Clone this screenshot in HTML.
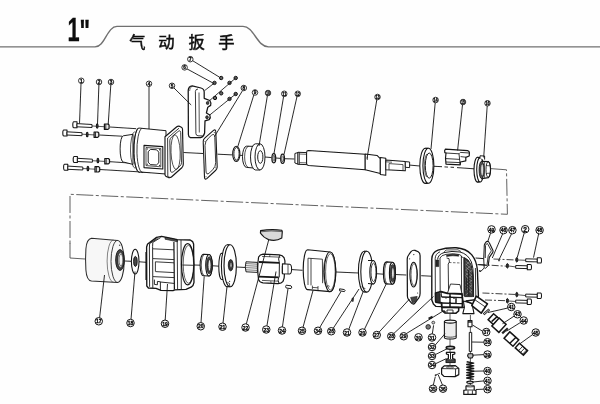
<!DOCTYPE html>
<html><head><meta charset="utf-8"><title>1" air wrench</title>
<style>html,body{margin:0;padding:0;background:#fff;}body{width:600px;height:404px;overflow:hidden;font-family:"Liberation Sans",sans-serif;}svg{display:block;}</style>
</head><body>
<svg width="600" height="404" viewBox="0 0 600 404">
<defs><filter id="soft" x="0" y="0" width="100%" height="100%" filterUnits="userSpaceOnUse"><feGaussianBlur stdDeviation="0.32"/></filter><filter id="soft2" x="0" y="0" width="100%" height="100%" filterUnits="userSpaceOnUse"><feGaussianBlur stdDeviation="0.18"/></filter></defs>
<rect width="600" height="404" fill="#fefefe"/>
<g filter="url(#soft)">
<path d="M0,46.9 H95 C105,46.9 107,26.4 117,26.4 H243 C254,26.4 257,46.9 268.5,46.9 H600" fill="none" stroke="#707070" stroke-width="1.4"/>
<text x="0" y="0" transform="translate(67.6,41.3) scale(0.67,1)" font-family="Liberation Sans, sans-serif" font-weight="bold" font-size="32.5" fill="#0a0a0a" stroke="#0a0a0a" stroke-width="0.3">1</text>
<text x="0" y="0" transform="translate(79.4,41.6) scale(0.68,0.95)" font-family="Liberation Sans, sans-serif" font-weight="bold" font-size="32.5" fill="#0a0a0a" stroke="#0a0a0a" stroke-width="0.4">&quot;</text>
<text x="129.15 158.15 188.55 218.35" y="47.8" font-family="'Liberation Sans', 'Noto Sans CJK SC', sans-serif" font-size="16.3" fill="#111" stroke="#111" stroke-width="0.5">气动扳手</text>
<path d="M490.6,168.6 L506.5,169.8 L507.4,214.3 L70,194.3 L70,244" fill="none" stroke="#3a3a3a" stroke-width="0.8" stroke-dasharray="17 2.5 3 2.5"/>
<path d="M70,243 L70,258 L85,259" fill="none" stroke="#3a3a3a" stroke-width="0.8"/>
<line x1="110" y1="127" x2="136.2" y2="128.7" stroke="#141414" stroke-width="0.9"/>
<line x1="99.2" y1="135" x2="122" y2="136.2" stroke="#141414" stroke-width="0.9"/>
<line x1="110" y1="161.7" x2="129.5" y2="163" stroke="#141414" stroke-width="0.9"/>
<line x1="100" y1="169.5" x2="150" y2="172.5" stroke="#141414" stroke-width="0.9"/>
<line x1="183.5" y1="152.5" x2="203" y2="153.5" stroke="#141414" stroke-width="0.9"/>
<line x1="217.5" y1="154.2" x2="232.5" y2="154.9" stroke="#141414" stroke-width="0.9"/>
<line x1="240" y1="155.3" x2="243" y2="155.5" stroke="#141414" stroke-width="0.9"/>
<line x1="265" y1="157" x2="271.5" y2="157.6" stroke="#141414" stroke-width="0.9"/>
<line x1="276" y1="158" x2="280.5" y2="158.4" stroke="#141414" stroke-width="0.9"/>
<line x1="284.6" y1="158.7" x2="294.5" y2="159" stroke="#141414" stroke-width="0.9"/>
<line x1="408.5" y1="165" x2="420" y2="166" stroke="#141414" stroke-width="0.9"/>
<line x1="434" y1="166.3" x2="442" y2="166.7" stroke="#141414" stroke-width="0.9"/>
<line x1="444.5" y1="166.9" x2="448" y2="167.1" stroke="#141414" stroke-width="0.9"/>
<line x1="450.5" y1="167.2" x2="454" y2="167.4" stroke="#141414" stroke-width="0.9"/>
<line x1="457" y1="167.6" x2="474" y2="168.8" stroke="#141414" stroke-width="0.9"/>
<line x1="125" y1="261" x2="131" y2="261.3" stroke="#141414" stroke-width="0.9"/>
<line x1="138" y1="261.7" x2="146" y2="262.3" stroke="#141414" stroke-width="0.9"/>
<line x1="194" y1="265" x2="200.5" y2="265.2" stroke="#141414" stroke-width="0.9"/>
<line x1="211.4" y1="265.7" x2="219" y2="266.2" stroke="#141414" stroke-width="0.9"/>
<line x1="236.6" y1="267" x2="245.5" y2="267.5" stroke="#141414" stroke-width="0.9"/>
<line x1="291" y1="269.5" x2="302.5" y2="270.3" stroke="#141414" stroke-width="0.9"/>
<line x1="336.2" y1="272" x2="358.7" y2="273" stroke="#141414" stroke-width="0.9"/>
<line x1="376.2" y1="273.7" x2="383.7" y2="274.2" stroke="#141414" stroke-width="0.9"/>
<line x1="395" y1="274.5" x2="406.2" y2="275" stroke="#141414" stroke-width="0.9"/>
<line x1="421.2" y1="275.7" x2="431.2" y2="276.2" stroke="#141414" stroke-width="0.9"/>
<line x1="493.5" y1="259" x2="516" y2="260" stroke="#141414" stroke-width="0.8" stroke-dasharray="7 2 2 2"/>
<line x1="478.7" y1="264.5" x2="506.4" y2="266.2" stroke="#141414" stroke-width="0.8" stroke-dasharray="7 2 2 2"/>
<line x1="482.5" y1="293" x2="516" y2="294.5" stroke="#141414" stroke-width="0.8" stroke-dasharray="7 2 2 2"/>
<line x1="485" y1="300" x2="506.4" y2="300.7" stroke="#141414" stroke-width="0.8" stroke-dasharray="7 2 2 2"/>
<line x1="450" y1="313.7" x2="450" y2="365" stroke="#141414" stroke-width="0.7"/>
<line x1="470.4" y1="315" x2="470.4" y2="385" stroke="#141414" stroke-width="0.7"/>
<path d="M73.8,121.8 h3.2 v6 h-3.2 a1,3 0 0 1 0,-6 z" fill="#fff" stroke="#141414" stroke-width="1.08" stroke-linejoin="round" />
<path d="M77,123.6 l15,0.9 v3 l-15,-0.7 z" fill="#fff" stroke="#141414" stroke-width="0.96" stroke-linejoin="round" />
<path d="M92,126.0 L106,126.8" fill="none" stroke="#141414" stroke-width="0.72" stroke-linejoin="round" />
<ellipse cx="97.2" cy="126.1" rx="0.9" ry="2.2" fill="#444" stroke="#141414" stroke-width="1.08"/>
<path d="M104.39999999999999,124.0 h3.6 l1.1,1 v3.4 l-1.1,1 h-3.6 z" fill="#e8e8e8" stroke="#141414" stroke-width="1.2" stroke-linejoin="round" />
<path d="M105.8,124.0 v5.4" fill="none" stroke="#141414" stroke-width="0.84" stroke-linejoin="round" />
<path d="M63.8,130 h3.2 v6 h-3.2 a1,3 0 0 1 0,-6 z" fill="#fff" stroke="#141414" stroke-width="1.08" stroke-linejoin="round" />
<path d="M67,131.8 l15,0.9 v3 l-15,-0.7 z" fill="#fff" stroke="#141414" stroke-width="0.96" stroke-linejoin="round" />
<path d="M82,134.2 L96,135" fill="none" stroke="#141414" stroke-width="0.72" stroke-linejoin="round" />
<ellipse cx="87.2" cy="134.4" rx="0.9" ry="2.2" fill="#444" stroke="#141414" stroke-width="1.08"/>
<path d="M94.1,132.0 h3.6 l1.1,1 v3.4 l-1.1,1 h-3.6 z" fill="#e8e8e8" stroke="#141414" stroke-width="1.2" stroke-linejoin="round" />
<path d="M95.5,132.0 v5.4" fill="none" stroke="#141414" stroke-width="0.84" stroke-linejoin="round" />
<path d="M74.2,156.5 h3.2 v6 h-3.2 a1,3 0 0 1 0,-6 z" fill="#fff" stroke="#141414" stroke-width="1.08" stroke-linejoin="round" />
<path d="M77.4,158.3 l15,0.9 v3 l-15,-0.7 z" fill="#fff" stroke="#141414" stroke-width="0.96" stroke-linejoin="round" />
<path d="M92.4,160.7 L106.4,161.5" fill="none" stroke="#141414" stroke-width="0.72" stroke-linejoin="round" />
<ellipse cx="97.9" cy="160.5" rx="0.9" ry="2.2" fill="#444" stroke="#141414" stroke-width="1.08"/>
<path d="M104.8,158.5 h3.6 l1.1,1 v3.4 l-1.1,1 h-3.6 z" fill="#e8e8e8" stroke="#141414" stroke-width="1.2" stroke-linejoin="round" />
<path d="M106.2,158.5 v5.4" fill="none" stroke="#141414" stroke-width="0.84" stroke-linejoin="round" />
<path d="M64.6,164.3 h3.2 v6 h-3.2 a1,3 0 0 1 0,-6 z" fill="#fff" stroke="#141414" stroke-width="1.08" stroke-linejoin="round" />
<path d="M67.8,166.10000000000002 l15,0.9 v3 l-15,-0.7 z" fill="#fff" stroke="#141414" stroke-width="0.96" stroke-linejoin="round" />
<path d="M82.8,168.5 L96.8,169.3" fill="none" stroke="#141414" stroke-width="0.72" stroke-linejoin="round" />
<ellipse cx="87.9" cy="168.6" rx="0.9" ry="2.2" fill="#444" stroke="#141414" stroke-width="1.08"/>
<path d="M95.0,166.60000000000002 h3.6 l1.1,1 v3.4 l-1.1,1 h-3.6 z" fill="#e8e8e8" stroke="#141414" stroke-width="1.2" stroke-linejoin="round" />
<path d="M96.4,166.60000000000002 v5.4" fill="none" stroke="#141414" stroke-width="0.84" stroke-linejoin="round" />
<path d="M133,134.3 L123.3,135.8 A3.2,13.1 0 0 0 123.3,162 L133,164.4 z" fill="#fff" stroke="#141414" stroke-width="0.96" stroke-linejoin="round" />
<path d="M138.5,128 L166,130.7 L166,174 L140.3,172 A5.5,22 0 0 1 138.5,128 z" fill="#fff" stroke="#141414" stroke-width="0.96" stroke-linejoin="round" />
<path d="M138.5,128 A5.5,22 0 0 0 140.3,172" fill="none" stroke="#141414" stroke-width="0.84" stroke-linejoin="round" />
<path d="M141.8,128.4 A5.5,21.8 0 0 0 143.2,172.3" fill="none" stroke="#141414" stroke-width="0.84" stroke-linejoin="round" />
<path d="M134.6,131.5 A4.8,18.5 0 0 0 135.2,168.3" fill="none" stroke="#141414" stroke-width="0.72" stroke-linejoin="round" />
<path d="M144,145.4 L162.8,146.6 L162.8,169 L144,167.6 z" fill="#fff" stroke="#141414" stroke-width="1.08" stroke-linejoin="round" />
<path d="M146,147.5 L160.8,148.5 L160.8,166.8 L146,165.6 z" fill="#fff" stroke="#141414" stroke-width="0.72" stroke-linejoin="round" />
<path d="M148.2,151.6 L150.6,149.4 L156.6,149.8 L158.8,152.2 L158.8,162.8 L156.4,165 L150.4,164.6 L148.2,162.2 z" fill="#fff" stroke="#141414" stroke-width="0.96" stroke-linejoin="round" />
<circle cx="147.2" cy="149" r="0.7" fill="#333"/>
<circle cx="159.6" cy="149.8" r="0.7" fill="#333"/>
<circle cx="147.2" cy="164.3" r="0.7" fill="#333"/>
<circle cx="159.6" cy="165.4" r="0.7" fill="#333"/>
<path d="M165,136.8 L176.8,126.8 Q178.2,125.8 179.8,126.4 L181.4,127.2 Q182.4,127.8 182.5,129 L183.3,164 Q183.3,166.4 181.8,167.8 L171.4,177 Q170,178 168.6,177.6 L166.2,176.4 Q165,175.8 165,174.4 z" fill="#fff" stroke="#141414" stroke-width="1.14" stroke-linejoin="round" />
<path d="M167.6,138 L179,128.2 M167.6,138 L167.8,176.6 M167.8,176.6 Q169,177.6 170.4,177.2" fill="none" stroke="#141414" stroke-width="0.84" stroke-linejoin="round" />
<path d="M169.8,140.6 Q169.8,138.6 171.4,137.2 L178.2,131.4 Q180.6,129.8 180.7,132.6 L181.5,162.6 Q181.5,164.6 180,166 L173.6,171.6 Q170.6,173.6 170.4,170 z" fill="#fff" stroke="#141414" stroke-width="0.84" stroke-linejoin="round" />
<ellipse cx="175.6" cy="152.2" rx="4.6" ry="17.4" fill="none" stroke="#141414" stroke-width="0.72" transform="rotate(-2 175.6 152.2)"/>
<path d="M188.2,90.6 Q188.4,86 192.2,85.8 L201,88 Q204.2,88.8 204.2,92.2 L204.2,98.3 L209.8,100.5 Q211.6,103 210.6,105.4 L207.8,107.2 L206.4,113 L209.8,115 Q211,117.5 209.2,119.6 L205,120.8 L204.6,133 Q203.5,137 200.5,137.6 L190.5,137.6 Q188.4,137 188.4,134.5 z" fill="#fff" stroke="#141414" stroke-width="1.26" stroke-linejoin="round" />
<path d="M195.4,91.4 Q195.6,89 198,89 M195.4,91.4 L195.9,133.5 Q196,135.6 198,135.8 L202.5,135.9" fill="none" stroke="#141414" stroke-width="0.84" stroke-linejoin="round" />
<path d="M199,92.5 L199.3,132.5" fill="none" stroke="#141414" stroke-width="0.72" stroke-linejoin="round" />
<path d="M192,86.4 Q189.5,87.5 189.6,91" fill="none" stroke="#141414" stroke-width="0.6" stroke-linejoin="round" />
<ellipse cx="207.6" cy="103" rx="1.3" ry="1.6" fill="#444" stroke="#141414" stroke-width="0.72"/>
<ellipse cx="207" cy="117.3" rx="1.3" ry="1.6" fill="#444" stroke="#141414" stroke-width="0.72"/>
<circle cx="221.2" cy="78" r="1.7" fill="#666" stroke="#111" stroke-width="1.0"/>
<circle cx="214.5" cy="82.9" r="1.7" fill="#666" stroke="#111" stroke-width="1.0"/>
<circle cx="235.7" cy="78" r="1.7" fill="#666" stroke="#111" stroke-width="1.0"/>
<circle cx="229.5" cy="82.9" r="1.7" fill="#666" stroke="#111" stroke-width="1.0"/>
<circle cx="235.7" cy="94" r="1.7" fill="#666" stroke="#111" stroke-width="1.0"/>
<circle cx="229.5" cy="98.9" r="1.7" fill="#666" stroke="#111" stroke-width="1.0"/>
<circle cx="221.2" cy="93.3" r="1.7" fill="#666" stroke="#111" stroke-width="1.0"/>
<circle cx="215" cy="98" r="1.7" fill="#666" stroke="#111" stroke-width="1.0"/>
<path d="M235.7,78 L208.5,101.5 M235.7,94 L209.5,115.2 M214.5,82.9 L204.6,90.6" fill="none" stroke="#141414" stroke-width="0.84" stroke-linejoin="round" />
<path d="M203.2,141.5 Q203,139.5 205,137.8 L213.5,130.4 Q215.5,129 215.8,131.5 L217.2,167 Q217.2,169 215.5,170.5 L206.8,178.6 Q204.7,180 204.5,177.5 z" fill="#fff" stroke="#141414" stroke-width="1.08" stroke-linejoin="round" />
<path d="M205,145.4 Q205,141.4 208.4,138.2 L211.4,135.4 Q214.6,132.8 214.8,137.4 L215.7,162.6 Q215.8,166.6 212.6,169.8 L209.6,172.8 Q206.2,175.8 206,171 z" fill="#fff" stroke="#141414" stroke-width="0.84" stroke-linejoin="round" />
<circle cx="205" cy="141.2" r="0.55" fill="#333"/>
<circle cx="214.3" cy="132.6" r="0.55" fill="#333"/>
<circle cx="215.8" cy="167.8" r="0.55" fill="#333"/>
<circle cx="206" cy="176.8" r="0.55" fill="#333"/>
<ellipse cx="236.3" cy="153.8" rx="3.6" ry="7.6" fill="#fff" stroke="#141414" stroke-width="1.08"/>
<ellipse cx="236.5" cy="153.8" rx="2.6" ry="6.3" fill="#fff" stroke="#141414" stroke-width="0.84"/>
<path d="M254,146.4 L246.5,146.2 A4,10.6 0 0 0 246.5,167.4 L254,168 z" fill="#fff" stroke="#141414" stroke-width="0.96" stroke-linejoin="round" />
<path d="M248.6,146.3 A4,10.6 0 0 0 248.6,167.5" fill="none" stroke="#141414" stroke-width="0.72" stroke-linejoin="round" />
<path d="M260,143.8 L255.5,143.8 A5,13.1 0 0 0 255.5,170 L260,170 z" fill="#fff" stroke="#141414" stroke-width="0.96" stroke-linejoin="round" />
<ellipse cx="260" cy="156.9" rx="5" ry="13.1" fill="#fff" stroke="#141414" stroke-width="0.96"/>
<ellipse cx="260.3" cy="157" rx="2.6" ry="6.3" fill="#fff" stroke="#141414" stroke-width="0.96"/>
<ellipse cx="273.8" cy="158.2" rx="1.9" ry="4.6" fill="#fff" stroke="#141414" stroke-width="1.2"/>
<ellipse cx="273.9" cy="158.2" rx="0.9" ry="3" fill="#fff" stroke="#141414" stroke-width="0.72"/>
<ellipse cx="282.6" cy="158.8" rx="1.9" ry="4.6" fill="#fff" stroke="#141414" stroke-width="1.2"/>
<ellipse cx="282.7" cy="158.8" rx="0.9" ry="3" fill="#fff" stroke="#141414" stroke-width="0.72"/>
<path d="M298,152.5 L294.9,153.5 L294.9,163 L298,164.2 z" fill="#fff" stroke="#141414" stroke-width="0.96" stroke-linejoin="round" />
<path d="M298,152.3 L306.7,152.6 L306.7,164.6 L298,164.3 z" fill="#fff" stroke="#141414" stroke-width="0.96" stroke-linejoin="round" />
<path d="M299.5,154 L306.7,154.3 M299.5,162.6 L306.7,162.9 M299.5,152.4 L299.5,164.3" fill="none" stroke="#141414" stroke-width="0.66" stroke-linejoin="round" />
<path d="M308.5,150.6 L365.2,154.3 L365.2,169.8 L308.5,165.4 Q306.6,165.2 306.6,163.5 L306.6,152.4 Q306.6,150.6 308.5,150.6 z" fill="#fff" stroke="#141414" stroke-width="1.02" stroke-linejoin="round" />
<path d="M365.2,154 L377,155.4 L380.3,158.6 L380.3,173.6 L365.2,169.8 z" fill="#fff" stroke="#141414" stroke-width="1.02" stroke-linejoin="round" />
<path d="M367.3,156.5 L367.3,160" fill="none" stroke="#141414" stroke-width="0.72" stroke-linejoin="round" />
<path d="M380.3,157.6 L385.8,158.2 L385.8,175.2 L380.3,174.5 z" fill="#fff" stroke="#141414" stroke-width="1.02" stroke-linejoin="round" />
<path d="M385.8,160 L405.3,161.4 L405.3,170.8 L385.8,169.7 z" fill="#fff" stroke="#141414" stroke-width="1.02" stroke-linejoin="round" />
<path d="M389,163.6 L403,164.6 L403,170.6 M389,163.6 L389,169.9 M385.8,161.8 L392,162.2" fill="none" stroke="#141414" stroke-width="0.72" stroke-linejoin="round" />
<path d="M405.3,161.6 L409.6,162 L409.6,167.6 L405.3,167.3 z" fill="#fff" stroke="#141414" stroke-width="0.96" stroke-linejoin="round" />
<ellipse cx="425.4" cy="165.8" rx="5.6" ry="17.6" fill="#fff" stroke="#141414" stroke-width="1.08"/>
<path d="M425.4,148.2 L428.4,148.2 M425.4,183.4 L428.4,183.4" fill="none" stroke="#141414" stroke-width="0.96" stroke-linejoin="round" />
<ellipse cx="428.4" cy="165.8" rx="5.5" ry="17.5" fill="#fff" stroke="#141414" stroke-width="1.08"/>
<ellipse cx="429.2" cy="165.6" rx="3.9" ry="12.6" fill="#fff" stroke="#141414" stroke-width="0.96"/>
<path d="M426.6,177 A3.9,12.6 0 0 1 426.8,154" fill="none" stroke="#141414" stroke-width="0.6" stroke-linejoin="round" />
<path d="M445.4,149.2 L467.6,150.6 Q469.4,151 469.4,152.8 L469.2,156 L465.8,157.4 L465.8,160.8 L460.4,162 L460.2,164.8 L446,164.2 Q445,158 446,153 L444.8,152.6 Q444.2,150.6 445.4,149.2 z" fill="#fff" stroke="#141414" stroke-width="1.2" stroke-linejoin="round" />
<path d="M446,153 L459,153.8 L460.4,152.4 L469.2,153 M459,153.8 L460.2,164.6 M446,158.6 L459.8,159.4 M446,162 L460.2,162.6 M460.6,156.6 L465.8,157.2" fill="none" stroke="#141414" stroke-width="0.84" stroke-linejoin="round" />
<ellipse cx="477.6" cy="169.7" rx="3.6" ry="12.4" fill="#fff" stroke="#141414" stroke-width="1.14"/>
<path d="M477.6,157.3 L480.2,157.5 M477.6,182.1 L480.2,182" fill="none" stroke="#141414" stroke-width="0.96" stroke-linejoin="round" />
<ellipse cx="480.2" cy="169.8" rx="3.5" ry="12.2" fill="#fff" stroke="#141414" stroke-width="1.08"/>
<path d="M481.6,161.2 L488.4,161.6 Q490.6,163 490.6,169.2 Q490.6,175.6 488.4,177.6 L481.8,178.6 z" fill="#fff" stroke="#141414" stroke-width="1.08" stroke-linejoin="round" />
<ellipse cx="481.6" cy="169.9" rx="2.5" ry="8.7" fill="#555" stroke="#141414" stroke-width="0.84"/>
<ellipse cx="482.2" cy="169.9" rx="1.5" ry="6.2" fill="#ddd" stroke="#141414" stroke-width="0.6"/>
<ellipse cx="488.2" cy="169.5" rx="2.2" ry="8" fill="none" stroke="#141414" stroke-width="0.84"/>
<path d="M484.6,162 L484.6,177.8 M486,165.6 L490,165.8 M486,173.4 L490,173.2" fill="none" stroke="#141414" stroke-width="0.72" stroke-linejoin="round" />
<path d="M480,158.6 L480,155.8 L484.6,156 L484.6,159.6" fill="#fff" stroke="#141414" stroke-width="0.96" stroke-linejoin="round" />
<path d="M91.5,238.3 L117.6,240.4 A6.6,21 0 0 1 117.6,282.4 L91.5,281 Q86.6,280.4 85.9,270 Q85.2,259 85.9,249 Q86.6,239 91.5,238.3 z" fill="#f7f7f7" stroke="#2a2a2a" stroke-width="1.02" stroke-linejoin="round" />
<path d="M117.6,240.4 A6.6,21 0 0 0 117.6,282.4" fill="none" stroke="#2a2a2a" stroke-width="0.9" stroke-linejoin="round" />
<path d="M113.4,240.1 A6.3,21 0 0 0 113.4,282.1" fill="none" stroke="#444" stroke-width="0.66" stroke-linejoin="round" />
<ellipse cx="120" cy="260" rx="4.3" ry="10.4" fill="#4a4a4a" stroke="#141414" stroke-width="0.96"/>
<ellipse cx="120.5" cy="260" rx="2.9" ry="7.8" fill="#e4e4e4" stroke="#141414" stroke-width="0.84"/>
<ellipse cx="120.9" cy="260" rx="1.9" ry="6" fill="#f4f4f4" stroke="#141414" stroke-width="0.6"/>
<circle cx="119.6" cy="245.2" r="0.7" fill="#555"/>
<ellipse cx="135.2" cy="261.6" rx="3.8" ry="12.4" fill="#fff" stroke="#141414" stroke-width="1.08"/>
<ellipse cx="135.4" cy="261.4" rx="1.8" ry="5" fill="#4a4a4a" stroke="#141414" stroke-width="0.96"/>
<path d="M146.6,247 L147.6,244 L149.6,242.6 L156.6,237.4 L161.6,236.4 L174,239 L177.2,239.7 L190.2,240 L192.6,241.6 L193.6,244 L194,282.4 L193,285.4 L191,287.2 L186,289.4 L180,289.6 L174.8,289.8 L173,290.6 L161,290.4 L156,288.4 L148.4,288 L146.8,286 z" fill="#fff" stroke="#141414" stroke-width="1.32" stroke-linejoin="round" />
<path d="M149.4,248 L149.6,243.6 L157.6,238.4 M149.4,248 L149.6,286.8 M152.6,246.4 L152.8,287.8 M152.6,246.4 L152.8,242.4 L160.6,237.6" fill="none" stroke="#141414" stroke-width="0.9" stroke-linejoin="round" />
<path d="M153,248.8 L174,249.8 M153,258.6 L174,259.6 M155.4,261.8 L174,262.8 M155.4,261.8 L155.4,271.4 M155.4,271.6 L174,272.6 M153,276.6 L174,277.6" fill="none" stroke="#141414" stroke-width="0.84" stroke-linejoin="round" />
<path d="M165,237.4 L177.4,240 L177.4,241.8 L165,239.2 z" fill="#555" stroke="#141414" stroke-width="0.6" stroke-linejoin="round" />
<path d="M173.9,242 L174.4,289.6" fill="none" stroke="#141414" stroke-width="1.2" stroke-linejoin="round" />
<path d="M177.2,239.8 L177.6,289.6 M181,240 L181.3,289.6" fill="none" stroke="#141414" stroke-width="0.84" stroke-linejoin="round" />
<ellipse cx="187.7" cy="264.3" rx="6.2" ry="20.6" fill="#fff" stroke="#141414" stroke-width="1.2"/>
<ellipse cx="188.4" cy="264.3" rx="5.2" ry="19" fill="none" stroke="#141414" stroke-width="0.66"/>
<path d="M154.4,279.6 L154.4,284.4 L157.4,284.8 L157.4,281.4 L160.4,281.8 L160.4,290.2 M160.4,282 L174,283.4" fill="none" stroke="#141414" stroke-width="0.9" stroke-linejoin="round" />
<path d="M146.2,252 L146.2,280" fill="none" stroke="#141414" stroke-width="1.56" stroke-linejoin="round" />
<path d="M182.4,265 L193.6,265.3" fill="none" stroke="#141414" stroke-width="0.84" stroke-linejoin="round" />
<path d="M203.4,254.3 L209.0,254.58 A3.3,10.7 0 0 1 209.0,275.97999999999996 L203.4,275.7 A3.3,10.7 0 0 1 203.4,254.3 z" fill="#fff" stroke="#141414" stroke-width="1.08" stroke-linejoin="round" />
<path d="M204.6,254.4 A3.3,10.7 0 0 0 204.6,275.8" fill="none" stroke="#141414" stroke-width="0.72" stroke-linejoin="round" />
<ellipse cx="209.0" cy="265.28" rx="3.3" ry="10.7" fill="#fff" stroke="#141414" stroke-width="1.08"/>
<ellipse cx="209.2" cy="265.28" rx="2.574" ry="8.56" fill="#4a4a4a" stroke="#141414" stroke-width="0.72"/>
<ellipse cx="209.5" cy="265.28" rx="1.4849999999999999" ry="5.885" fill="#eee" stroke="#141414" stroke-width="0.72"/>
<path d="M225,253.4 L221.6,253.2 A2.8,13 0 0 0 221.6,279.4 L225,279.6 z" fill="#fff" stroke="#141414" stroke-width="1.02" stroke-linejoin="round" />
<ellipse cx="227.4" cy="265.7" rx="6" ry="21" fill="#fff" stroke="#141414" stroke-width="1.08"/>
<path d="M227.4,244.7 L230.2,244.8 M227.4,286.7 L230.2,286.8" fill="none" stroke="#141414" stroke-width="0.96" stroke-linejoin="round" />
<ellipse cx="230.2" cy="265.8" rx="6.2" ry="21" fill="#fff" stroke="#141414" stroke-width="1.14"/>
<ellipse cx="230.7" cy="265.2" rx="2.4" ry="5.6" fill="#3a3a3a" stroke="#141414" stroke-width="0.84"/>
<ellipse cx="231" cy="265.2" rx="0.9" ry="2.8" fill="#ddd" stroke="#141414" stroke-width="0.48"/>
<path d="M227.4,282.4 l2,1 l0.4,2.8" fill="none" stroke="#141414" stroke-width="0.78" stroke-linejoin="round" />
<circle cx="229.6" cy="281.4" r="0.65" fill="#444"/>
<path d="M260.6,230.6 Q271,228.8 281.8,230.2 L282.3,231.6 L281.8,238 Q276,241.6 268.6,239.6 Q263.4,237.6 260.4,233 z" fill="#dadada" stroke="#141414" stroke-width="1.14" stroke-linejoin="round" />
<path d="M260.6,231.8 Q271,230.2 282,231.6" fill="none" stroke="#141414" stroke-width="0.6" stroke-linejoin="round" />
<path d="M246,261.8 L257.4,262.4 L257.4,272.4 L246,271.8 Q244.6,267 246,261.8 z" fill="#fff" stroke="#141414" stroke-width="0.96" stroke-linejoin="round" />
<path d="M246,263.6 L257.4,264.2 M245.4,265.6 L257.4,266.2 M245.2,267.6 L257.4,268.2 M245.6,269.8 L257.4,270.4" fill="none" stroke="#333" stroke-width="0.66" stroke-linejoin="round" />
<path d="M258.6,257 Q260,254.4 263,254.2 L279.4,254.8 Q282.6,255 284,257.6 Q285.6,261 284.8,265.6 L282.4,266.4 L282.4,273 L284.4,274 Q284.6,278.6 283,281.4 Q281.4,283.8 277.6,283.6 L263,282.8 Q259.6,282.4 258.6,279.6 Q256.8,268 258.6,257 z" fill="#fff" stroke="#141414" stroke-width="1.2" stroke-linejoin="round" />
<path d="M259,262 L279.4,262.8" fill="none" stroke="#141414" stroke-width="1.8" stroke-linejoin="round" />
<path d="M259,276.6 L278.6,277.4" fill="none" stroke="#141414" stroke-width="1.8" stroke-linejoin="round" />
<path d="M262,256.4 L280.4,257.2 M262,280.4 L279,281.2" fill="none" stroke="#141414" stroke-width="0.72" stroke-linejoin="round" />
<path d="M279.8,255 Q277.6,259 279.4,262.8 M278.6,277.4 Q277.4,280.4 279,283.4 M279.4,262.8 L279.2,277.4" fill="none" stroke="#141414" stroke-width="0.96" stroke-linejoin="round" />
<path d="M270,254.4 L269.6,257 M271,283.2 L270.8,281" fill="none" stroke="#141414" stroke-width="0.6" stroke-linejoin="round" />
<path d="M282.4,263.8 L289.6,264.2 Q291.6,264.4 291.6,269 Q291.6,273.8 289.6,274 L282.4,273.8 z" fill="#fff" stroke="#141414" stroke-width="1.02" stroke-linejoin="round" />
<path d="M288,264.2 L288,273.9" fill="none" stroke="#141414" stroke-width="0.72" stroke-linejoin="round" />
<path d="M286.2,285.2 L291,285.8 Q292.6,287 291,288.6 L286.2,288 Q285,286.6 286.2,285.2 z" fill="#fff" stroke="#141414" stroke-width="0.96" stroke-linejoin="round" />
<path d="M307.6,249.8 L330,252 A5.8,19.8 0 0 1 330,291.6 L307.6,289.6 A4.4,19.9 0 0 1 307.6,249.8 z" fill="#fff" stroke="#141414" stroke-width="1.14" stroke-linejoin="round" />
<ellipse cx="330" cy="271.8" rx="5.8" ry="19.8" fill="#fff" stroke="#141414" stroke-width="1.08"/>
<ellipse cx="330.4" cy="271.8" rx="4.8" ry="18.2" fill="none" stroke="#141414" stroke-width="0.66"/>
<path d="M326.4,257 A4.6,16 0 0 0 326.6,287" fill="none" stroke="#141414" stroke-width="0.6" stroke-linejoin="round" />
<path d="M308,258.2 L322.4,259.2 L322.6,283.2 M308,258.2 L308,285 M311,258.4 L311,285.4" fill="none" stroke="#141414" stroke-width="0.78" stroke-linejoin="round" />
<path d="M312.4,285.6 L312.4,289 M318,286 L318,290 M312.4,287.4 L318,287.8" fill="none" stroke="#141414" stroke-width="0.72" stroke-linejoin="round" />
<circle cx="328.4" cy="286.4" r="0.9" fill="none" stroke="#222" stroke-width="0.5"/>
<path d="M339.6,288.8 L344.4,289.6 Q345.8,290.6 344.4,291.6 L339.6,290.8 z" fill="#fff" stroke="#141414" stroke-width="0.96" stroke-linejoin="round" />
<path d="M352.2,298 L353.6,298.2 L353.2,301.4 L351.8,301.2 z" fill="#555" stroke="#141414" stroke-width="0.6" stroke-linejoin="round" />
<ellipse cx="364.4" cy="271.6" rx="6" ry="20.4" fill="#fff" stroke="#141414" stroke-width="1.08"/>
<path d="M364.4,251.2 L366.8,251.2 M364.4,292 L366.8,292" fill="none" stroke="#141414" stroke-width="0.96" stroke-linejoin="round" />
<ellipse cx="366.8" cy="271.7" rx="6" ry="20.4" fill="#fff" stroke="#141414" stroke-width="1.08"/>
<path d="M368,260.4 L373.2,260.6 A3.4,11.8 0 0 1 373.2,284 L368,283.6" fill="#fff" stroke="#141414" stroke-width="1.02" stroke-linejoin="round" />
<ellipse cx="373.2" cy="272.3" rx="3.4" ry="11.8" fill="#fff" stroke="#141414" stroke-width="1.02"/>
<ellipse cx="373.5" cy="272.3" rx="2.5" ry="9.2" fill="#fff" stroke="#141414" stroke-width="0.84"/>
<path d="M361.8,286 l1.6,2 l2,0.6" fill="none" stroke="#141414" stroke-width="0.72" stroke-linejoin="round" />
<path d="M386.4,261.9 L392.4,262.2 A3.0,11 0 0 1 392.4,284.2 L386.4,283.9 A3.0,11 0 0 1 386.4,261.9 z" fill="#fff" stroke="#141414" stroke-width="1.08" stroke-linejoin="round" />
<path d="M387.59999999999997,262.0 A3.0,11 0 0 0 387.59999999999997,284.0" fill="none" stroke="#141414" stroke-width="0.72" stroke-linejoin="round" />
<ellipse cx="392.4" cy="273.2" rx="3.0" ry="11" fill="#fff" stroke="#141414" stroke-width="1.08"/>
<ellipse cx="392.59999999999997" cy="273.2" rx="2.34" ry="8.8" fill="#4a4a4a" stroke="#141414" stroke-width="0.72"/>
<ellipse cx="392.9" cy="273.2" rx="1.35" ry="6.050000000000001" fill="#eee" stroke="#141414" stroke-width="0.72"/>
<path d="M407.2,259.4 Q407.2,256.8 408.6,255 L410.8,251.8 Q412.6,249.8 415,250.4 L418.2,251.8 Q420.1,253 420.1,255.6 L420.1,293.6 Q420.1,296 418.8,297.8 L415,303 Q413.4,304.8 411.8,303.4 L408.6,299.6 Q407.4,298.2 407.4,296 z" fill="#fff" stroke="#141414" stroke-width="1.2" stroke-linejoin="round" />
<ellipse cx="413.6" cy="274.6" rx="3.7" ry="12.4" fill="#fff" stroke="#141414" stroke-width="1.08"/>
<ellipse cx="414" cy="274.6" rx="2.9" ry="11" fill="none" stroke="#141414" stroke-width="0.6"/>
<path d="M410.6,297.4 L417.2,296.4 L416,301.6 L412.4,303 z" fill="#444" stroke="#141414" stroke-width="0.6" stroke-linejoin="round" />
<circle cx="413.8" cy="254.6" r="0.7" fill="#333"/><circle cx="409.6" cy="258.8" r="0.6" fill="#333"/><circle cx="417.6" cy="293" r="0.6" fill="#333"/>
<path d="M431.8,259 Q432,252.5 438,250.2 Q446,247.6 456,247.8 Q466,248.4 471.6,254.6 Q476.6,260.6 477.4,270 L478.4,296 L477.4,299.4 L466,301 L465,307.4 L436,306.4 L433.4,304 L431.8,300 z" fill="#fff" stroke="#141414" stroke-width="1.38" stroke-linejoin="round" />
<path d="M435.2,258.5 Q435.4,253.6 440,251.8 M435.2,258.5 L435.4,301.5 M440,258 L440.2,293" fill="none" stroke="#141414" stroke-width="0.84" stroke-linejoin="round" />
<path d="M437.6,259.5 Q438,254.4 444,252.6 Q452,250.6 460,252 Q468,254 471.4,262 Q473.4,268 473.4,276 L473.6,297" fill="none" stroke="#141414" stroke-width="0.96" stroke-linejoin="round" />
<path d="M440,258 Q441.2,255.2 446,254.4 Q454,253 459.6,254.6 Q462,255.6 462.4,258" fill="none" stroke="#141414" stroke-width="0.84" stroke-linejoin="round" />
<path d="M444,252.2 L446,250 L458,249.8 L461,251.6" fill="none" stroke="#141414" stroke-width="0.72" stroke-linejoin="round" />
<path d="M446.5,255.2 Q452,253.6 458.6,254.8 L458.8,256.2 Q452,255.2 446.6,256.6 z" fill="#2a2a2a" stroke="#141414" stroke-width="0.48" stroke-linejoin="round" />
<path d="M449,258.6 L449.4,262 L448.2,264 L448.6,294 M449,258.6 L446.6,258 M461.4,256 L461.6,296 M463.8,257 L464,296" fill="none" stroke="#141414" stroke-width="0.84" stroke-linejoin="round" />
<path d="M449,262.5 L461.4,263" fill="none" stroke="#141414" stroke-width="0.6" stroke-linejoin="round" stroke-dasharray="2.5 1.5"/>
<path d="M464.4,257.6 Q469,259.4 471.2,265 Q472.8,271 472.8,280 L472.8,296.6 L464.6,296.6 z" fill="#3c3c3c" stroke="#141414" stroke-width="0.84" stroke-linejoin="round" />
<path d="M465.6,261 L470.6,265 M465.6,264 L471.6,269 M465.6,267 L472,272.4 M465.6,270 L472,275.4 M465.6,273 L472,278.4 M465.6,276 L472,281.4 M465.6,279 L472,284.4 M465.6,282 L472,287.4 M465.6,285 L472,290.4 M465.6,288 L472,293.4 M470.6,261 L465.6,265 M471.6,265 L465.6,270 M472,270 L465.6,275.4 M472,275 L465.6,280.4 M472,280 L465.6,285.4 M472,285 L465.6,290.4 M472,290 L465.6,295" stroke="#bbb" stroke-width="0.45" fill="none"/>
<path d="M468.6,270 L468.8,296" fill="none" stroke="#222" stroke-width="1.2" stroke-linejoin="round" />
<path d="M466.6,278 L466.6,290" fill="none" stroke="#222" stroke-width="0.96" stroke-linejoin="round" />
<path d="M475.4,268 L475.8,297" fill="none" stroke="#141414" stroke-width="0.84" stroke-linejoin="round" />
<path d="M435.8,260 L438.8,260 L438.8,266.6 L435.8,266.6 z" fill="#2a2a2a" stroke="#141414" stroke-width="0.48" stroke-linejoin="round" />
<path d="M436.6,293 L438.6,293 L438.6,297 L436.6,297 z" fill="#2a2a2a" stroke="#141414" stroke-width="0.48" stroke-linejoin="round" />
<path d="M450.5,284 L447.4,293.4 L462,294 L460,284.6 z" fill="#fff" stroke="#141414" stroke-width="0.84" stroke-linejoin="round" />
<path d="M435.6,293 L441,291.6 L447.4,293.4 L462,294 L462.6,300 L462.4,307.4 L441.8,307.2 L441.6,303 L435.8,302 z" fill="#fff" stroke="#141414" stroke-width="1.8" stroke-linejoin="round" />
<path d="M435.8,293.2 L440.2,293.6 L440.2,302.6 L435.8,302 z" fill="#333" stroke="#141414" stroke-width="0.72" stroke-linejoin="round" />
<path d="M441.6,297 L462.6,297.6 M441.6,303 L462.4,303.6 M450,294 L450,307 M456,297.4 L456,303.4" fill="none" stroke="#141414" stroke-width="1.44" stroke-linejoin="round" />
<path d="M441,291.8 L441.6,297" fill="none" stroke="#141414" stroke-width="0.96" stroke-linejoin="round" />
<circle cx="454" cy="298.2" r="0.8" fill="#222"/><circle cx="446" cy="298" r="0.7" fill="#222"/>
<path d="M441.9,307.3 L458.8,307.6 L458.6,311 L456,313.2 L445,313 L442,310.6 z" fill="#fff" stroke="#141414" stroke-width="1.56" stroke-linejoin="round" />
<path d="M447,313 L447,310 L453,310 L453,313.2" fill="none" stroke="#141414" stroke-width="0.84" stroke-linejoin="round" />
<path d="M443.4,310.8 L445.6,312.8" fill="none" stroke="#222" stroke-width="1.92" stroke-linejoin="round" />
<path d="M463.4,301 L472,303.6 L474,313.6 L462.8,313.6 L464.4,307.4 z" fill="#fff" stroke="#141414" stroke-width="1.08" stroke-linejoin="round" />
<path d="M476.3,296.2 L487.5,303.8 L481.2,313.2 L471.8,305.6 z" fill="#fff" stroke="#141414" stroke-width="1.56" stroke-linejoin="round" />
<path d="M474.4,299.4 L485.4,307" fill="none" stroke="#141414" stroke-width="0.84" stroke-linejoin="round" />
<path d="M466,301 L472,303.6" fill="none" stroke="#141414" stroke-width="1.32" stroke-linejoin="round" />
<path d="M484.3,245 Q485.6,241.4 487.4,241.2 Q488.6,241.2 489.4,243 L493,250.4 Q493.4,251.4 492.6,252.6 L489.3,257.4 L488.2,265.6" fill="none" stroke="#141414" stroke-width="1.08" stroke-linejoin="round" />
<path d="M485.4,245.6 Q486.4,243.4 487.4,243.4 L491.4,250.8 L488.2,255.8 L487,265" fill="none" stroke="#141414" stroke-width="0.84" stroke-linejoin="round" />
<path d="M484.3,245 L483.7,258.6 L484.2,268 M485.4,245.6 L485.2,258" fill="none" stroke="#141414" stroke-width="0.96" stroke-linejoin="round" />
<path d="M475.6,258 L483.7,258.6 M477.5,264.6 L487.4,265.4 M484.2,268 L480.6,271.6 L479,270.4 M488.2,265.6 L485,268.8" fill="none" stroke="#141414" stroke-width="0.96" stroke-linejoin="round" />
<circle cx="480.2" cy="271.2" r="0.9" fill="#333"/>
<circle cx="499" cy="260.4" r="0.9" fill="#333"/>
<path d="M525.7,258.8 L537.3000000000001,259.1 L537.3000000000001,261.90000000000003 L525.7,261.6 z" fill="#fff" stroke="#141414" stroke-width="0.96" stroke-linejoin="round" />
<path d="M537.3000000000001,257.7 h3.2 a1,2.7 0 0 1 0,5.4 h-3.2 z" fill="#fff" stroke="#141414" stroke-width="1.02" stroke-linejoin="round" />
<path d="M515.7,265.5 L527.3000000000001,265.8 L527.3000000000001,268.6 L515.7,268.3 z" fill="#fff" stroke="#141414" stroke-width="0.96" stroke-linejoin="round" />
<path d="M527.3000000000001,264.4 h3.2 a1,2.7 0 0 1 0,5.4 h-3.2 z" fill="#fff" stroke="#141414" stroke-width="1.02" stroke-linejoin="round" />
<path d="M525.7,294.1 L537.3000000000001,294.40000000000003 L537.3000000000001,297.20000000000005 L525.7,296.90000000000003 z" fill="#fff" stroke="#141414" stroke-width="0.96" stroke-linejoin="round" />
<path d="M537.3000000000001,293.0 h3.2 a1,2.7 0 0 1 0,5.4 h-3.2 z" fill="#fff" stroke="#141414" stroke-width="1.02" stroke-linejoin="round" />
<path d="M515.7,300.1 L527.3000000000001,300.40000000000003 L527.3000000000001,303.20000000000005 L515.7,302.90000000000003 z" fill="#fff" stroke="#141414" stroke-width="0.96" stroke-linejoin="round" />
<path d="M527.3000000000001,299.0 h3.2 a1,2.7 0 0 1 0,5.4 h-3.2 z" fill="#fff" stroke="#141414" stroke-width="1.02" stroke-linejoin="round" />
<path d="M518,260 L525.7,260.3 M508.6,266 L515.7,266.9 M518,294.8 L525.7,295.6 M508.6,301 L515.7,301.5" fill="none" stroke="#141414" stroke-width="0.72" stroke-linejoin="round" />
<ellipse cx="516.8" cy="259.8" rx="1.0" ry="2.3" fill="#333" stroke="#141414" stroke-width="0.96"/>
<ellipse cx="507.4" cy="265.8" rx="1.0" ry="2.3" fill="#333" stroke="#141414" stroke-width="0.96"/>
<ellipse cx="516.8" cy="294.6" rx="1.0" ry="2.3" fill="#333" stroke="#141414" stroke-width="0.96"/>
<ellipse cx="507.4" cy="300.8" rx="1.0" ry="2.3" fill="#333" stroke="#141414" stroke-width="0.96"/>
<path d="M428.6,318.8 L432.6,316.8" fill="none" stroke="#222" stroke-width="2.16" stroke-linejoin="round" />
<circle cx="428.2" cy="326.9" r="2.3" fill="#777" stroke="#222" stroke-width="0.9"/>
<circle cx="433.3" cy="322.6" r="1.4" fill="#ccc" stroke="#222" stroke-width="0.8"/>
<path d="M444.4,321.6 L444.4,337.4 A5.9,1.6 0 0 0 456.2,337.4 L456.2,321.6 z" fill="#ececec" stroke="#141414" stroke-width="1.08" stroke-linejoin="round" />
<ellipse cx="450.3" cy="321.6" rx="5.9" ry="1.5" fill="#fafafa" stroke="#141414" stroke-width="1.08"/>
<path d="M444.4,335.6 A5.9,1.6 0 0 0 456.2,335.6" fill="none" stroke="#141414" stroke-width="0.72" stroke-linejoin="round" />
<ellipse cx="450.4" cy="347.8" rx="4.2" ry="1.4" fill="#fff" stroke="#141414" stroke-width="1.56"/>
<path d="M446.4,352.4 L454.8,352.4 L454.8,354 L452.6,354.6 L452.6,358.6 L455,359.4 L455,362.4 L446.2,362.4 L446.2,359.4 L448.4,358.6 L448.4,354.6 L446.4,354 z" fill="#fff" stroke="#141414" stroke-width="1.2" stroke-linejoin="round" />
<path d="M446.2,359.6 L455,359.6 L455,362.6 L446.2,362.6 z" fill="#444" stroke="#141414" stroke-width="0.6" stroke-linejoin="round" />
<path d="M450.5,352.4 L450.5,359" fill="none" stroke="#141414" stroke-width="0.96" stroke-linejoin="round" />
<path d="M444.4,365.8 L455.4,365.6 L458.8,368.4 L458.8,374.6 L455,376.6 L444,376.4 L441.6,374 L441.6,368.2 z" fill="#fff" stroke="#141414" stroke-width="1.2" stroke-linejoin="round" />
<path d="M441.6,368.6 L455.6,368.8 L458.8,368.4 M455.6,368.8 L455.4,376.4" fill="none" stroke="#141414" stroke-width="0.84" stroke-linejoin="round" />
<ellipse cx="450" cy="367.2" rx="3.4" ry="1.0" fill="#fff" stroke="#141414" stroke-width="0.84"/>
<circle cx="435.6" cy="375.2" r="0.9" fill="#333"/>
<path d="M436,375 L440,373.2" fill="none" stroke="#141414" stroke-width="0.84" stroke-linejoin="round" />
<path d="M468,320.6 L472,320.6 L472,326.8 L468,326.8 z" fill="#fff" stroke="#141414" stroke-width="1.08" stroke-linejoin="round" />
<path d="M468,322 L472,322" fill="none" stroke="#141414" stroke-width="1.32" stroke-linejoin="round" />
<path d="M469.3,332.4 L471.7,332.4 L471.7,351.4 L469.3,351.4 z" fill="#fff" stroke="#141414" stroke-width="0.96" stroke-linejoin="round" />
<path d="M468.2,353.8 L472.6,353.8 L473.2,356 L472,358 L468.8,358 L467.6,356 z" fill="#bbb" stroke="#141414" stroke-width="1.08" stroke-linejoin="round" />
<path d="M466.7,361.8 L473.7,363.15 L466.7,364.50 L473.7,365.85 L466.7,367.20 L473.7,368.55 L466.7,369.90 L473.7,371.25 L466.7,372.60 L473.7,373.95 L466.7,375.30 L473.7,376.65 L466.7,378.00 L473.7,379.35 " fill="none" stroke="#141414" stroke-width="1.38" stroke-linejoin="round" />
<ellipse cx="470" cy="382.2" rx="3.2" ry="1.1" fill="#fff" stroke="#141414" stroke-width="1.2"/>
<path d="M466,386 L474.2,386 L474.2,390 L476,390.4 L476,394.4 L463.8,394.4 L463.8,390.4 L466,390 z" fill="#fff" stroke="#141414" stroke-width="1.2" stroke-linejoin="round" />
<path d="M466,390 L474.2,390 M468,390.4 L468,394.4 M472.4,390.4 L472.4,394.4" fill="none" stroke="#141414" stroke-width="0.84" stroke-linejoin="round" />
<ellipse cx="470.1" cy="386" rx="4.1" ry="0.9" fill="#fff" stroke="#141414" stroke-width="0.84"/>
<path d="M483.6,314.4 L489.3,309.4" fill="none" stroke="#222" stroke-width="2.4" stroke-linejoin="round" />
<path d="M483.9,314.1 L489,309.7" fill="none" stroke="#fff" stroke-width="0.72" stroke-linejoin="round" />
<rect x="489.90" y="315.20" width="7.6" height="8.2" fill="#fff" stroke="#141414" stroke-width="1.5" transform="rotate(42 493.7 319.3)"/>
<rect x="494.30" y="319.80" width="9.4" height="10.8" fill="#fff" stroke="#141414" stroke-width="1.5" transform="rotate(42 499 325.2)"/>
<path d="M491.6,321.6 L497.4,316.4" fill="none" stroke="#141414" stroke-width="1.44" stroke-linejoin="round" />
<path d="M502.2,333.4 L507.8,328.2" fill="none" stroke="#222" stroke-width="2.16" stroke-linejoin="round" />
<rect x="505.40" y="334.80" width="12" height="8.6" fill="#fff" stroke="#141414" stroke-width="1.5" transform="rotate(42 511.4 339.1)"/>
<path d="M509.6,343.4 L516,337.2" fill="none" stroke="#141414" stroke-width="1.44" stroke-linejoin="round" />
<rect x="515.90" y="346.10" width="11" height="6.2" fill="#fff" stroke="#141414" stroke-width="1.5" transform="rotate(42 521.4 349.2)"/>
<path d="M518.6,350.6 L522.8,346.2 M520.6,352.4 L524.8,348 M522.6,354.2 L526.8,349.8" fill="none" stroke="#141414" stroke-width="0.84" stroke-linejoin="round" />
<line x1="81" y1="83.7" x2="79.5" y2="123.5" stroke="#141414" stroke-width="0.9"/>
<line x1="98.9" y1="84.8" x2="97.5" y2="124" stroke="#141414" stroke-width="0.9"/>
<line x1="110.8" y1="84.8" x2="108.2" y2="124.5" stroke="#141414" stroke-width="0.9"/>
<line x1="149" y1="86.5" x2="149" y2="129" stroke="#141414" stroke-width="0.9"/>
<line x1="173.8" y1="87.8" x2="191.2" y2="105" stroke="#141414" stroke-width="0.9"/>
<line x1="187" y1="68.9" x2="213.5" y2="83.3" stroke="#141414" stroke-width="0.9"/>
<line x1="192.8" y1="60.8" x2="219.5" y2="77.2" stroke="#141414" stroke-width="0.9"/>
<line x1="242.6" y1="90.5" x2="214.5" y2="136.5" stroke="#141414" stroke-width="0.9"/>
<line x1="253.8" y1="95" x2="237.5" y2="147.5" stroke="#141414" stroke-width="0.9"/>
<line x1="267.4" y1="95.7" x2="259" y2="146" stroke="#141414" stroke-width="0.9"/>
<line x1="283.6" y1="96.5" x2="274" y2="153.5" stroke="#141414" stroke-width="0.9"/>
<line x1="297" y1="96.5" x2="284" y2="154.5" stroke="#141414" stroke-width="0.9"/>
<line x1="376.8" y1="99.7" x2="367" y2="158.7" stroke="#141414" stroke-width="0.9"/>
<line x1="435.2" y1="102.8" x2="431" y2="149" stroke="#141414" stroke-width="0.9"/>
<line x1="462.5" y1="104.8" x2="457.6" y2="150.4" stroke="#141414" stroke-width="0.9"/>
<line x1="487.2" y1="106" x2="483.7" y2="157.5" stroke="#141414" stroke-width="0.9"/>
<line x1="99.6" y1="317.7" x2="104.5" y2="275" stroke="#141414" stroke-width="0.9"/>
<line x1="131" y1="319.4" x2="135" y2="271.5" stroke="#141414" stroke-width="0.9"/>
<line x1="165.2" y1="320.2" x2="167.5" y2="284" stroke="#141414" stroke-width="0.9"/>
<line x1="201" y1="322.7" x2="204.2" y2="276.5" stroke="#141414" stroke-width="0.9"/>
<line x1="223" y1="323.2" x2="227" y2="286.5" stroke="#141414" stroke-width="0.9"/>
<line x1="246.3" y1="324" x2="268.7" y2="240" stroke="#141414" stroke-width="0.9"/>
<line x1="266.9" y1="326" x2="276" y2="271.5" stroke="#141414" stroke-width="0.9"/>
<line x1="282.4" y1="327" x2="288" y2="288.7" stroke="#141414" stroke-width="0.9"/>
<line x1="303" y1="327.3" x2="313" y2="290.5" stroke="#141414" stroke-width="0.9"/>
<line x1="319.7" y1="327.6" x2="341" y2="291.5" stroke="#141414" stroke-width="0.9"/>
<line x1="333.2" y1="328.3" x2="359" y2="289" stroke="#141414" stroke-width="0.9"/>
<line x1="348.8" y1="329.3" x2="363" y2="292" stroke="#141414" stroke-width="0.9"/>
<line x1="364.4" y1="329.4" x2="386.2" y2="284" stroke="#141414" stroke-width="0.9"/>
<line x1="379" y1="332.2" x2="409.5" y2="299" stroke="#141414" stroke-width="0.9"/>
<line x1="393.7" y1="333.6" x2="433.5" y2="296.5" stroke="#141414" stroke-width="0.9"/>
<line x1="406.2" y1="333.7" x2="443.5" y2="310.8" stroke="#141414" stroke-width="0.9"/>
<line x1="432.3" y1="333.9" x2="433.6" y2="325.3" stroke="#141414" stroke-width="0.9"/>
<line x1="435.1" y1="345.2" x2="445" y2="333.7" stroke="#141414" stroke-width="0.9"/>
<line x1="435.3" y1="354.6" x2="447" y2="348.8" stroke="#141414" stroke-width="0.9"/>
<line x1="435.4" y1="363.8" x2="446.2" y2="358.7" stroke="#141414" stroke-width="0.9"/>
<line x1="433.3" y1="385.1" x2="435.3" y2="376.6" stroke="#141414" stroke-width="0.9"/>
<line x1="442.5" y1="385.1" x2="438.3" y2="375" stroke="#141414" stroke-width="0.9"/>
<line x1="482.7" y1="331.3" x2="472.5" y2="325" stroke="#141414" stroke-width="0.9"/>
<line x1="483.9" y1="342.2" x2="472" y2="342" stroke="#141414" stroke-width="0.9"/>
<line x1="483.9" y1="354.6" x2="472.6" y2="355.2" stroke="#141414" stroke-width="0.9"/>
<line x1="483.9" y1="371" x2="473" y2="371.2" stroke="#141414" stroke-width="0.9"/>
<line x1="483.9" y1="380.9" x2="473" y2="382" stroke="#141414" stroke-width="0.9"/>
<line x1="483.9" y1="389.2" x2="476" y2="389.5" stroke="#141414" stroke-width="0.9"/>
<line x1="507.8" y1="308" x2="488" y2="312.5" stroke="#141414" stroke-width="0.9"/>
<line x1="514.3" y1="316" x2="502.5" y2="323.7" stroke="#141414" stroke-width="0.9"/>
<line x1="520.6" y1="322.4" x2="506.5" y2="331.2" stroke="#141414" stroke-width="0.9"/>
<line x1="532.6" y1="334.6" x2="520" y2="343.7" stroke="#141414" stroke-width="0.9"/>
<line x1="490.6" y1="233" x2="487.6" y2="242" stroke="#141414" stroke-width="0.9"/>
<line x1="502.6" y1="233.9" x2="492.3" y2="258" stroke="#141414" stroke-width="0.9"/>
<line x1="511.5" y1="233.9" x2="499" y2="259.7" stroke="#141414" stroke-width="0.9"/>
<line x1="524.2" y1="233" x2="517.2" y2="257.6" stroke="#141414" stroke-width="0.9"/>
<line x1="538.6" y1="234" x2="533.5" y2="257.6" stroke="#141414" stroke-width="0.9"/>
</g>
<g filter="url(#soft2)">
<circle cx="81.25" cy="80.75" r="2.75" fill="#fff" stroke="#151515" stroke-width="0.85"/>
<text x="81.25" y="82.55" text-anchor="middle" textLength="2.60" lengthAdjust="spacingAndGlyphs" font-family="Liberation Sans, sans-serif" font-weight="bold" font-size="5.0" fill="#080808" stroke="#080808" stroke-width="0.3">1</text>
<circle cx="99" cy="82" r="2.75" fill="#fff" stroke="#151515" stroke-width="0.85"/>
<text x="99" y="83.80" text-anchor="middle" textLength="2.60" lengthAdjust="spacingAndGlyphs" font-family="Liberation Sans, sans-serif" font-weight="bold" font-size="5.0" fill="#080808" stroke="#080808" stroke-width="0.3">2</text>
<circle cx="111" cy="82" r="2.75" fill="#fff" stroke="#151515" stroke-width="0.85"/>
<text x="111" y="83.80" text-anchor="middle" textLength="2.60" lengthAdjust="spacingAndGlyphs" font-family="Liberation Sans, sans-serif" font-weight="bold" font-size="5.0" fill="#080808" stroke="#080808" stroke-width="0.3">3</text>
<circle cx="149" cy="83.75" r="2.75" fill="#fff" stroke="#151515" stroke-width="0.85"/>
<text x="149" y="85.55" text-anchor="middle" textLength="2.60" lengthAdjust="spacingAndGlyphs" font-family="Liberation Sans, sans-serif" font-weight="bold" font-size="5.0" fill="#080808" stroke="#080808" stroke-width="0.3">4</text>
<circle cx="172" cy="85.75" r="2.75" fill="#fff" stroke="#151515" stroke-width="0.85"/>
<text x="172" y="87.55" text-anchor="middle" textLength="2.60" lengthAdjust="spacingAndGlyphs" font-family="Liberation Sans, sans-serif" font-weight="bold" font-size="5.0" fill="#080808" stroke="#080808" stroke-width="0.3">5</text>
<circle cx="184.6" cy="67.4" r="2.75" fill="#fff" stroke="#151515" stroke-width="0.85"/>
<text x="184.6" y="69.20" text-anchor="middle" textLength="2.60" lengthAdjust="spacingAndGlyphs" font-family="Liberation Sans, sans-serif" font-weight="bold" font-size="5.0" fill="#080808" stroke="#080808" stroke-width="0.3">6</text>
<circle cx="190.3" cy="59.2" r="2.75" fill="#fff" stroke="#151515" stroke-width="0.85"/>
<text x="190.3" y="61.00" text-anchor="middle" textLength="2.60" lengthAdjust="spacingAndGlyphs" font-family="Liberation Sans, sans-serif" font-weight="bold" font-size="5.0" fill="#080808" stroke="#080808" stroke-width="0.3">7</text>
<circle cx="243.8" cy="88" r="2.75" fill="#fff" stroke="#151515" stroke-width="0.85"/>
<text x="243.8" y="89.80" text-anchor="middle" textLength="2.60" lengthAdjust="spacingAndGlyphs" font-family="Liberation Sans, sans-serif" font-weight="bold" font-size="5.0" fill="#080808" stroke="#080808" stroke-width="0.3">8</text>
<circle cx="255" cy="92.5" r="2.75" fill="#fff" stroke="#151515" stroke-width="0.85"/>
<text x="255" y="94.30" text-anchor="middle" textLength="2.60" lengthAdjust="spacingAndGlyphs" font-family="Liberation Sans, sans-serif" font-weight="bold" font-size="5.0" fill="#080808" stroke="#080808" stroke-width="0.3">9</text>
<circle cx="268" cy="93" r="2.75" fill="#fff" stroke="#151515" stroke-width="0.85"/>
<text x="268" y="94.80" text-anchor="middle" textLength="4.20" lengthAdjust="spacingAndGlyphs" font-family="Liberation Sans, sans-serif" font-weight="bold" font-size="5.0" fill="#080808" stroke="#080808" stroke-width="0.3">10</text>
<circle cx="284.25" cy="93.75" r="2.75" fill="#fff" stroke="#151515" stroke-width="0.85"/>
<text x="284.25" y="95.55" text-anchor="middle" textLength="4.20" lengthAdjust="spacingAndGlyphs" font-family="Liberation Sans, sans-serif" font-weight="bold" font-size="5.0" fill="#080808" stroke="#080808" stroke-width="0.3">11</text>
<circle cx="297.75" cy="93.75" r="2.75" fill="#fff" stroke="#151515" stroke-width="0.85"/>
<text x="297.75" y="95.55" text-anchor="middle" textLength="4.20" lengthAdjust="spacingAndGlyphs" font-family="Liberation Sans, sans-serif" font-weight="bold" font-size="5.0" fill="#080808" stroke="#080808" stroke-width="0.3">12</text>
<circle cx="377.5" cy="97" r="2.75" fill="#fff" stroke="#151515" stroke-width="0.85"/>
<text x="377.5" y="98.80" text-anchor="middle" textLength="4.20" lengthAdjust="spacingAndGlyphs" font-family="Liberation Sans, sans-serif" font-weight="bold" font-size="5.0" fill="#080808" stroke="#080808" stroke-width="0.3">13</text>
<circle cx="435.6" cy="100" r="2.75" fill="#fff" stroke="#151515" stroke-width="0.85"/>
<text x="435.6" y="101.80" text-anchor="middle" textLength="4.20" lengthAdjust="spacingAndGlyphs" font-family="Liberation Sans, sans-serif" font-weight="bold" font-size="5.0" fill="#080808" stroke="#080808" stroke-width="0.3">14</text>
<circle cx="463" cy="102" r="2.75" fill="#fff" stroke="#151515" stroke-width="0.85"/>
<text x="463" y="103.80" text-anchor="middle" textLength="4.20" lengthAdjust="spacingAndGlyphs" font-family="Liberation Sans, sans-serif" font-weight="bold" font-size="5.0" fill="#080808" stroke="#080808" stroke-width="0.3">15</text>
<circle cx="487.5" cy="103.25" r="2.75" fill="#fff" stroke="#151515" stroke-width="0.85"/>
<text x="487.5" y="105.05" text-anchor="middle" textLength="4.20" lengthAdjust="spacingAndGlyphs" font-family="Liberation Sans, sans-serif" font-weight="bold" font-size="5.0" fill="#080808" stroke="#080808" stroke-width="0.3">16</text>
<circle cx="98.75" cy="321.25" r="3.75" fill="#fff" stroke="#151515" stroke-width="1.0"/>
<text x="98.75" y="323.45" text-anchor="middle" textLength="5.50" lengthAdjust="spacingAndGlyphs" font-family="Liberation Sans, sans-serif" font-weight="bold" font-size="6.1" fill="#080808" stroke="#080808" stroke-width="0.32">17</text>
<circle cx="130.5" cy="323" r="3.75" fill="#fff" stroke="#151515" stroke-width="1.0"/>
<text x="130.5" y="325.20" text-anchor="middle" textLength="5.50" lengthAdjust="spacingAndGlyphs" font-family="Liberation Sans, sans-serif" font-weight="bold" font-size="6.1" fill="#080808" stroke="#080808" stroke-width="0.32">18</text>
<circle cx="165" cy="323.75" r="3.75" fill="#fff" stroke="#151515" stroke-width="1.0"/>
<text x="165" y="325.95" text-anchor="middle" textLength="5.50" lengthAdjust="spacingAndGlyphs" font-family="Liberation Sans, sans-serif" font-weight="bold" font-size="6.1" fill="#080808" stroke="#080808" stroke-width="0.32">19</text>
<circle cx="200.75" cy="326.25" r="3.75" fill="#fff" stroke="#151515" stroke-width="1.0"/>
<text x="200.75" y="328.45" text-anchor="middle" textLength="5.50" lengthAdjust="spacingAndGlyphs" font-family="Liberation Sans, sans-serif" font-weight="bold" font-size="6.1" fill="#080808" stroke="#080808" stroke-width="0.32">20</text>
<circle cx="222.5" cy="326.75" r="3.75" fill="#fff" stroke="#151515" stroke-width="1.0"/>
<text x="222.5" y="328.95" text-anchor="middle" textLength="5.50" lengthAdjust="spacingAndGlyphs" font-family="Liberation Sans, sans-serif" font-weight="bold" font-size="6.1" fill="#080808" stroke="#080808" stroke-width="0.32">21</text>
<circle cx="245.5" cy="327.5" r="3.75" fill="#fff" stroke="#151515" stroke-width="1.0"/>
<text x="245.5" y="329.70" text-anchor="middle" textLength="5.50" lengthAdjust="spacingAndGlyphs" font-family="Liberation Sans, sans-serif" font-weight="bold" font-size="6.1" fill="#080808" stroke="#080808" stroke-width="0.32">22</text>
<circle cx="266.25" cy="329.5" r="3.75" fill="#fff" stroke="#151515" stroke-width="1.0"/>
<text x="266.25" y="331.70" text-anchor="middle" textLength="5.50" lengthAdjust="spacingAndGlyphs" font-family="Liberation Sans, sans-serif" font-weight="bold" font-size="6.1" fill="#080808" stroke="#080808" stroke-width="0.32">23</text>
<circle cx="282" cy="330.5" r="3.75" fill="#fff" stroke="#151515" stroke-width="1.0"/>
<text x="282" y="332.70" text-anchor="middle" textLength="5.50" lengthAdjust="spacingAndGlyphs" font-family="Liberation Sans, sans-serif" font-weight="bold" font-size="6.1" fill="#080808" stroke="#080808" stroke-width="0.32">24</text>
<circle cx="302" cy="330.75" r="3.75" fill="#fff" stroke="#151515" stroke-width="1.0"/>
<text x="302" y="332.95" text-anchor="middle" textLength="5.50" lengthAdjust="spacingAndGlyphs" font-family="Liberation Sans, sans-serif" font-weight="bold" font-size="6.1" fill="#080808" stroke="#080808" stroke-width="0.32">25</text>
<circle cx="318" cy="330.75" r="3.75" fill="#fff" stroke="#151515" stroke-width="1.0"/>
<text x="318" y="332.95" text-anchor="middle" textLength="5.50" lengthAdjust="spacingAndGlyphs" font-family="Liberation Sans, sans-serif" font-weight="bold" font-size="6.1" fill="#080808" stroke="#080808" stroke-width="0.32">34</text>
<circle cx="331.25" cy="331.25" r="3.75" fill="#fff" stroke="#151515" stroke-width="1.0"/>
<text x="331.25" y="333.45" text-anchor="middle" textLength="5.50" lengthAdjust="spacingAndGlyphs" font-family="Liberation Sans, sans-serif" font-weight="bold" font-size="6.1" fill="#080808" stroke="#080808" stroke-width="0.32">26</text>
<circle cx="347" cy="332.5" r="3.75" fill="#fff" stroke="#151515" stroke-width="1.0"/>
<text x="347" y="334.70" text-anchor="middle" textLength="5.50" lengthAdjust="spacingAndGlyphs" font-family="Liberation Sans, sans-serif" font-weight="bold" font-size="6.1" fill="#080808" stroke="#080808" stroke-width="0.32">21</text>
<circle cx="362.5" cy="332.5" r="3.75" fill="#fff" stroke="#151515" stroke-width="1.0"/>
<text x="362.5" y="334.70" text-anchor="middle" textLength="5.50" lengthAdjust="spacingAndGlyphs" font-family="Liberation Sans, sans-serif" font-weight="bold" font-size="6.1" fill="#080808" stroke="#080808" stroke-width="0.32">20</text>
<circle cx="376.75" cy="335" r="3.75" fill="#fff" stroke="#151515" stroke-width="1.0"/>
<text x="376.75" y="337.20" text-anchor="middle" textLength="5.50" lengthAdjust="spacingAndGlyphs" font-family="Liberation Sans, sans-serif" font-weight="bold" font-size="6.1" fill="#080808" stroke="#080808" stroke-width="0.32">27</text>
<circle cx="391.25" cy="336.25" r="3.75" fill="#fff" stroke="#151515" stroke-width="1.0"/>
<text x="391.25" y="338.45" text-anchor="middle" textLength="5.50" lengthAdjust="spacingAndGlyphs" font-family="Liberation Sans, sans-serif" font-weight="bold" font-size="6.1" fill="#080808" stroke="#080808" stroke-width="0.32">28</text>
<circle cx="403.75" cy="336.25" r="3.75" fill="#fff" stroke="#151515" stroke-width="1.0"/>
<text x="403.75" y="338.45" text-anchor="middle" textLength="5.50" lengthAdjust="spacingAndGlyphs" font-family="Liberation Sans, sans-serif" font-weight="bold" font-size="6.1" fill="#080808" stroke="#080808" stroke-width="0.32">29</text>
<circle cx="418.5" cy="337.3" r="3.75" fill="#fff" stroke="#151515" stroke-width="1.0"/>
<text x="418.5" y="339.50" text-anchor="middle" textLength="5.50" lengthAdjust="spacingAndGlyphs" font-family="Liberation Sans, sans-serif" font-weight="bold" font-size="6.1" fill="#080808" stroke="#080808" stroke-width="0.32">30</text>
<circle cx="432" cy="337.5" r="3.75" fill="#fff" stroke="#151515" stroke-width="1.0"/>
<text x="432" y="339.70" text-anchor="middle" textLength="5.50" lengthAdjust="spacingAndGlyphs" font-family="Liberation Sans, sans-serif" font-weight="bold" font-size="6.1" fill="#080808" stroke="#080808" stroke-width="0.32">31</text>
<circle cx="432" cy="347" r="3.75" fill="#fff" stroke="#151515" stroke-width="1.0"/>
<text x="432" y="349.20" text-anchor="middle" textLength="5.50" lengthAdjust="spacingAndGlyphs" font-family="Liberation Sans, sans-serif" font-weight="bold" font-size="6.1" fill="#080808" stroke="#080808" stroke-width="0.32">32</text>
<circle cx="432" cy="356" r="3.75" fill="#fff" stroke="#151515" stroke-width="1.0"/>
<text x="432" y="358.20" text-anchor="middle" textLength="5.50" lengthAdjust="spacingAndGlyphs" font-family="Liberation Sans, sans-serif" font-weight="bold" font-size="6.1" fill="#080808" stroke="#080808" stroke-width="0.32">33</text>
<circle cx="432" cy="365" r="3.75" fill="#fff" stroke="#151515" stroke-width="1.0"/>
<text x="432" y="367.20" text-anchor="middle" textLength="5.50" lengthAdjust="spacingAndGlyphs" font-family="Liberation Sans, sans-serif" font-weight="bold" font-size="6.1" fill="#080808" stroke="#080808" stroke-width="0.32">34</text>
<circle cx="433" cy="388.7" r="3.75" fill="#fff" stroke="#151515" stroke-width="1.0"/>
<text x="433" y="390.90" text-anchor="middle" textLength="5.50" lengthAdjust="spacingAndGlyphs" font-family="Liberation Sans, sans-serif" font-weight="bold" font-size="6.1" fill="#080808" stroke="#080808" stroke-width="0.32">35</text>
<circle cx="443" cy="388.7" r="3.75" fill="#fff" stroke="#151515" stroke-width="1.0"/>
<text x="443" y="390.90" text-anchor="middle" textLength="5.50" lengthAdjust="spacingAndGlyphs" font-family="Liberation Sans, sans-serif" font-weight="bold" font-size="6.1" fill="#080808" stroke="#080808" stroke-width="0.32">36</text>
<circle cx="486.25" cy="332" r="3.75" fill="#fff" stroke="#151515" stroke-width="1.0"/>
<text x="486.25" y="334.20" text-anchor="middle" textLength="5.50" lengthAdjust="spacingAndGlyphs" font-family="Liberation Sans, sans-serif" font-weight="bold" font-size="6.1" fill="#080808" stroke="#080808" stroke-width="0.32">37</text>
<circle cx="487.5" cy="342.2" r="3.75" fill="#fff" stroke="#151515" stroke-width="1.0"/>
<text x="487.5" y="344.40" text-anchor="middle" textLength="5.50" lengthAdjust="spacingAndGlyphs" font-family="Liberation Sans, sans-serif" font-weight="bold" font-size="6.1" fill="#080808" stroke="#080808" stroke-width="0.32">38</text>
<circle cx="487.5" cy="354.5" r="3.75" fill="#fff" stroke="#151515" stroke-width="1.0"/>
<text x="487.5" y="356.70" text-anchor="middle" textLength="5.50" lengthAdjust="spacingAndGlyphs" font-family="Liberation Sans, sans-serif" font-weight="bold" font-size="6.1" fill="#080808" stroke="#080808" stroke-width="0.32">39</text>
<circle cx="487.5" cy="371" r="3.75" fill="#fff" stroke="#151515" stroke-width="1.0"/>
<text x="487.5" y="373.20" text-anchor="middle" textLength="5.50" lengthAdjust="spacingAndGlyphs" font-family="Liberation Sans, sans-serif" font-weight="bold" font-size="6.1" fill="#080808" stroke="#080808" stroke-width="0.32">40</text>
<circle cx="487.5" cy="380.8" r="3.75" fill="#fff" stroke="#151515" stroke-width="1.0"/>
<text x="487.5" y="383.00" text-anchor="middle" textLength="5.50" lengthAdjust="spacingAndGlyphs" font-family="Liberation Sans, sans-serif" font-weight="bold" font-size="6.1" fill="#080808" stroke="#080808" stroke-width="0.32">41</text>
<circle cx="487.5" cy="389.2" r="3.75" fill="#fff" stroke="#151515" stroke-width="1.0"/>
<text x="487.5" y="391.40" text-anchor="middle" textLength="5.50" lengthAdjust="spacingAndGlyphs" font-family="Liberation Sans, sans-serif" font-weight="bold" font-size="6.1" fill="#080808" stroke="#080808" stroke-width="0.32">42</text>
<circle cx="511.25" cy="307" r="3.75" fill="#fff" stroke="#151515" stroke-width="1.0"/>
<text x="511.25" y="309.20" text-anchor="middle" textLength="5.50" lengthAdjust="spacingAndGlyphs" font-family="Liberation Sans, sans-serif" font-weight="bold" font-size="6.1" fill="#080808" stroke="#080808" stroke-width="0.32">41</text>
<circle cx="517.5" cy="314.25" r="3.75" fill="#fff" stroke="#151515" stroke-width="1.0"/>
<text x="517.5" y="316.45" text-anchor="middle" textLength="5.50" lengthAdjust="spacingAndGlyphs" font-family="Liberation Sans, sans-serif" font-weight="bold" font-size="6.1" fill="#080808" stroke="#080808" stroke-width="0.32">43</text>
<circle cx="523.75" cy="320.5" r="3.75" fill="#fff" stroke="#151515" stroke-width="1.0"/>
<text x="523.75" y="322.70" text-anchor="middle" textLength="5.50" lengthAdjust="spacingAndGlyphs" font-family="Liberation Sans, sans-serif" font-weight="bold" font-size="6.1" fill="#080808" stroke="#080808" stroke-width="0.32">44</text>
<circle cx="535.75" cy="332.5" r="3.75" fill="#fff" stroke="#151515" stroke-width="1.0"/>
<text x="535.75" y="334.70" text-anchor="middle" textLength="5.50" lengthAdjust="spacingAndGlyphs" font-family="Liberation Sans, sans-serif" font-weight="bold" font-size="6.1" fill="#080808" stroke="#080808" stroke-width="0.32">45</text>
<circle cx="491.5" cy="229.4" r="3.75" fill="#fff" stroke="#151515" stroke-width="1.0"/>
<text x="491.5" y="231.60" text-anchor="middle" textLength="5.50" lengthAdjust="spacingAndGlyphs" font-family="Liberation Sans, sans-serif" font-weight="bold" font-size="6.1" fill="#080808" stroke="#080808" stroke-width="0.32">49</text>
<circle cx="503.5" cy="230.2" r="3.75" fill="#fff" stroke="#151515" stroke-width="1.0"/>
<text x="503.5" y="232.40" text-anchor="middle" textLength="5.50" lengthAdjust="spacingAndGlyphs" font-family="Liberation Sans, sans-serif" font-weight="bold" font-size="6.1" fill="#080808" stroke="#080808" stroke-width="0.32">46</text>
<circle cx="512.4" cy="230.2" r="3.75" fill="#fff" stroke="#151515" stroke-width="1.0"/>
<text x="512.4" y="232.40" text-anchor="middle" textLength="5.50" lengthAdjust="spacingAndGlyphs" font-family="Liberation Sans, sans-serif" font-weight="bold" font-size="6.1" fill="#080808" stroke="#080808" stroke-width="0.32">47</text>
<circle cx="525.2" cy="229.2" r="3.75" fill="#fff" stroke="#151515" stroke-width="1.0"/>
<text x="525.2" y="231.79" text-anchor="middle" textLength="3.74" lengthAdjust="spacingAndGlyphs" font-family="Liberation Sans, sans-serif" font-weight="bold" font-size="7.2" fill="#080808" stroke="#080808" stroke-width="0.32">2</text>
<circle cx="539.6" cy="230.2" r="3.75" fill="#fff" stroke="#151515" stroke-width="1.0"/>
<text x="539.6" y="232.40" text-anchor="middle" textLength="5.50" lengthAdjust="spacingAndGlyphs" font-family="Liberation Sans, sans-serif" font-weight="bold" font-size="6.1" fill="#080808" stroke="#080808" stroke-width="0.32">48</text>
</g>
</svg>
</body></html>
